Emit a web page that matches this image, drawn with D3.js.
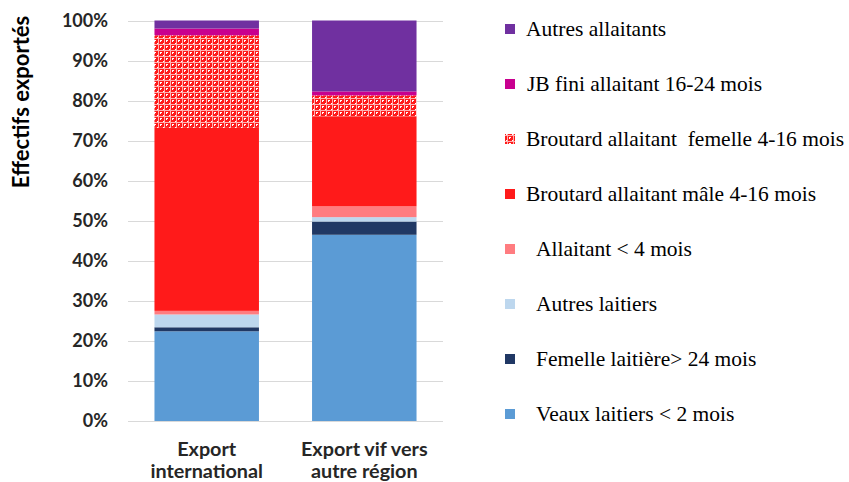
<!DOCTYPE html>
<html>
<head>
<meta charset="utf-8">
<script src="https://cdn.jsdelivr.net/npm/d3@7"></script>
<style>
  body { margin: 0; background: #fff; }
</style>
</head>
<body>
<script>
// chart size
const width = 849, height = 482;

// categories and series (percent of exported heads, bottom to top)
const categories = ["Export international", "Export vif vers autre région"];
const categoryLines = [["Export", "international"], ["Export vif vers", "autre région"]];
const seriesNames = [
  "Veaux laitiers < 2 mois",
  "Femelle laitière> 24 mois",
  "Autres laitiers",
  "Allaitant < 4 mois",
  "Broutard allaitant mâle 4-16 mois",
  "Broutard allaitant  femelle 4-16 mois",
  "JB fini allaitant 16-24 mois",
  "Autres allaitants"
];
const exportInternational = [22.4, 1.0, 3.2, 0.9, 45.7, 23.1, 1.7, 2.0];
const exportRegion = [46.5, 3.3, 1.1, 2.7, 22.5, 5.2, 1.0, 17.7];
const yTicks = [0, 10, 20, 30, 40, 50, 60, 70, 80, 90, 100];

const colors = ["#5B9BD5", "#203864", "#BDD7EE", "#FF7C80", "#FF1A1A", "url(#confetti)", "#C8008F", "#7030A0"];
const legendIndent = [10, 10, 10, 10, 0, 0, 1, 0];

const svg = d3.select("body").append("svg")
  .attr("width", width)
  .attr("height", height);

// pattern for the "femelle" series
const defs = svg.append("defs");
const pat = defs.append("pattern")
  .attr("id", "confetti")
  .attr("patternUnits", "userSpaceOnUse")
  .attr("width", 6).attr("height", 6);
pat.append("rect").attr("width", 6).attr("height", 6).attr("fill", "#FF1A1A");
pat.append("rect").attr("x", 0).attr("y", 2).attr("width", 6).attr("height", 1).attr("fill", "#FFB0B0");
pat.append("rect").attr("x", 2).attr("y", 0).attr("width", 1).attr("height", 6).attr("fill", "#FFB0B0");
pat.append("rect").attr("x", 4).attr("y", 4).attr("width", 2).attr("height", 1).attr("fill", "#ffffff");
pat.append("rect").attr("x", 4).attr("y", 5).attr("width", 1).attr("height", 1).attr("fill", "#ffffff");
pat.append("rect").attr("x", 1).attr("y", 1).attr("width", 1).attr("height", 1).attr("fill", "#ffffff");

// scales
const x = d3.scaleBand()
  .domain(categories)
  .range([128, 443])
  .paddingInner(0.337)
  .paddingOuter(0.168);

const y = d3.scaleLinear()
  .domain([0, 100])
  .range([421, 20.5]);

// gridlines
svg.append("g")
  .selectAll("line")
  .data(yTicks)
  .join("line")
  .attr("x1", 128).attr("x2", 443)
  .attr("y1", d => Math.round(y(d)) + 0.5)
  .attr("y2", d => Math.round(y(d)) + 0.5)
  .attr("stroke", "#D9D9D9")
  .attr("stroke-width", 1);

// y axis labels
const yAxis = svg.append("g")
  .attr("transform", "translate(128,0)")
  .call(d3.axisLeft(y).tickValues(yTicks).tickFormat(d => d + "%").tickSize(0).tickPadding(20));
yAxis.select(".domain").remove();
yAxis.selectAll("text")
  .attr("font-family", "Lato, 'Open Sans', sans-serif")
  .attr("font-weight", "bold")
  .attr("font-size", 18)
  .attr("fill", "#262626");

// stacked data
const rows = categories.map((c, i) => {
  const vals = i === 0 ? exportInternational : exportRegion;
  const r = { cat: c };
  seriesNames.forEach((s, j) => r[s] = vals[j]);
  return r;
});
const stacked = d3.stack().keys(seriesNames)(rows);

svg.append("g")
  .selectAll("g")
  .data(stacked)
  .join("g")
  .attr("fill", (d, i) => colors[i])
  .selectAll("rect")
  .data(d => d)
  .join("rect")
  .attr("x", d => x(d.data.cat))
  .attr("width", x.bandwidth())
  .attr("y", d => y(d[1]))
  .attr("height", d => y(d[0]) - y(d[1]));

// category labels, two lines each
const catG = svg.append("g");
categories.forEach((c, i) => {
  categoryLines[i].forEach((l, k) => {
    catG.append("text")
      .attr("transform", `translate(${x(c) + x.bandwidth() / 2},${456 + k * 22}) scale(1.1,1)`)
      .attr("text-anchor", "middle")
      .attr("font-family", "Lato, 'Open Sans', sans-serif")
      .attr("font-weight", "bold")
      .attr("font-size", 18)
      .attr("fill", "#262626")
      .text(l);
  });
});

// y axis title
svg.append("text")
  .attr("transform", "translate(29,102) rotate(-90)")
  .attr("text-anchor", "middle")
  .attr("font-family", "Lato, 'Open Sans', sans-serif")
  .attr("font-weight", "bold")
  .attr("font-size", 22)
  .attr("fill", "#000")
  .text("Effectifs exportés");

// legend, top entry is the last series
const legendY = d3.scalePoint()
  .domain(seriesNames.slice().reverse())
  .range([29, 414]);

const legend = svg.append("g")
  .selectAll("g")
  .data(seriesNames)
  .join("g")
  .attr("transform", d => `translate(505,${legendY(d)})`);

legend.append("rect")
  .attr("x", 0).attr("y", -5)
  .attr("width", 10).attr("height", 10)
  .attr("fill", (d, i) => colors[i]);

legend.append("text")
  .attr("transform", (d, i) => `translate(${21 + legendIndent[i]},7) scale(1.075,1)`)
  .attr("font-family", "'Liberation Serif', 'Times New Roman', serif")
  .attr("font-size", 20)
  .attr("fill", "#000")
  .attr("xml:space", "preserve")
  .style("white-space", "pre")
  .text(d => d);
</script>
</body>
</html>
